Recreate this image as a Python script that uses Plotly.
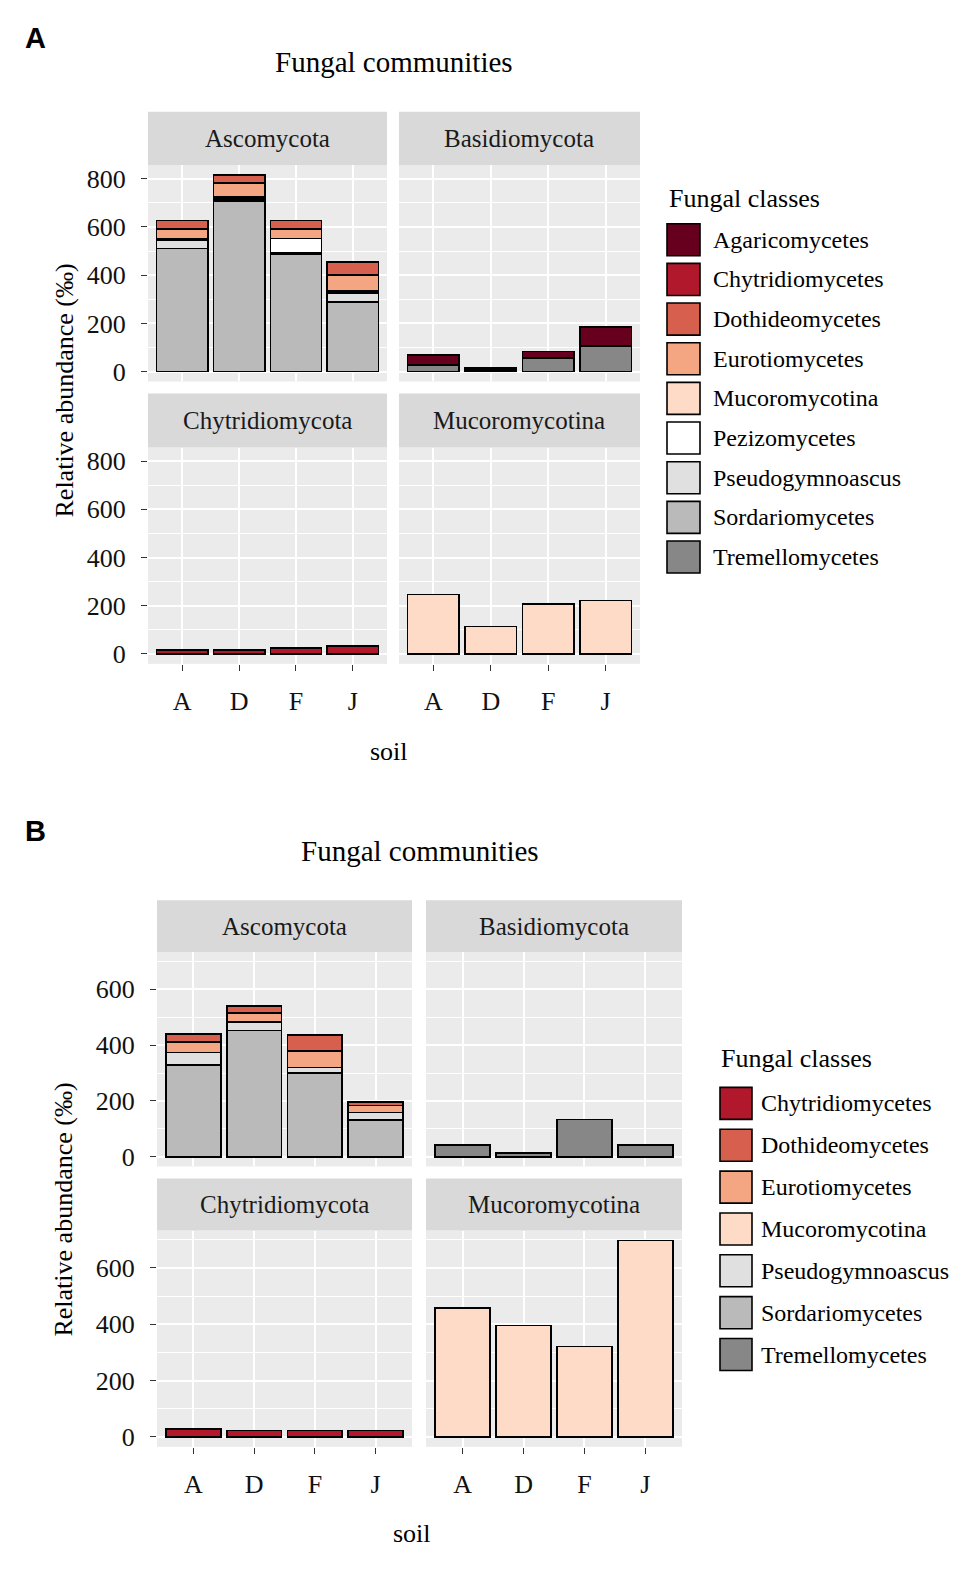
import plotly.graph_objects as go

OFF = 8  # browser body margin compensation
W, H = 975 - 2 * OFF, 1571 - 2 * OFF
YS = 1.0045  # small vertical calibration
FONT = "Liberation Serif"

# ---------------- data ----------------
soils = ["A", "D", "F", "J"]

classes_A = ["Agaricomycetes", "Chytridiomycetes", "Dothideomycetes", "Eurotiomycetes",
             "Mucoromycotina", "Pezizomycetes", "Pseudogymnoascus", "Sordariomycetes",
             "Tremellomycetes"]
classes_B = ["Chytridiomycetes", "Dothideomycetes", "Eurotiomycetes", "Mucoromycotina",
             "Pseudogymnoascus", "Sordariomycetes", "Tremellomycetes"]

class_colors = {
    "Agaricomycetes": "#67001f",
    "Chytridiomycetes": "#b2182b",
    "Dothideomycetes": "#d6604d",
    "Eurotiomycetes": "#f4a582",
    "Mucoromycotina": "#fddbc7",
    "Pezizomycetes": "#ffffff",
    "Pseudogymnoascus": "#e0e0e0",
    "Sordariomycetes": "#bababa",
    "Tremellomycetes": "#878787",
}

phyla = ["Ascomycota", "Basidiomycota", "Chytridiomycota", "Mucoromycotina"]

# Panel A (relative abundance, per mille)
A_asco = {
    "Dothideomycetes": [35, 32, 35, 53],
    "Eurotiomycetes": [41, 60, 39, 67],
    "Pezizomycetes": [6, 7, 60, 7],
    "Pseudogymnoascus": [34, 9, 3, 37],
    "Sordariomycetes": [510, 707, 489, 290],
}
A_basidio = {
    "Agaricomycetes": [42, 8, 27, 79],
    "Tremellomycetes": [28, 6, 57, 105],
}
A_chytrid = {"Chytridiomycetes": [16, 16, 25, 33]}
A_mucoro = {"Mucoromycotina": [247, 114, 208, 222]}

# Panel B
B_asco = {
    "Dothideomycetes": [29, 24, 57, 12],
    "Eurotiomycetes": [38, 32, 60, 26],
    "Pseudogymnoascus": [44, 31, 20, 27],
    "Sordariomycetes": [329, 452, 300, 131],
}
B_basidio = {"Tremellomycetes": [41, 14, 133, 41]}
B_chytrid = {"Chytridiomycetes": [29, 23, 23, 23]}
B_mucoro = {"Mucoromycotina": [458, 396, 321, 698]}

A_yticks = [0, 200, 400, 600, 800]
B_yticks = [0, 200, 400, 600]
A_yminor = [100, 300, 500, 700]
B_yminor = [100, 300, 500, 700]

title_text = "Fungal communities"
legend_title = "Fungal classes"
xlab = "soil"
ylab = "Relative abundance (‰)"


# ---------------- layout helpers ----------------
def px(x):
    return (x - OFF) / W


def py(y):
    return 1 - (y - OFF) * YS / H


def yrange_for(data_dicts):
    mx = max(sum(vals[i] for vals in d.values()) for d in data_dicts for i in range(len(soils)))
    return [-0.05 * mx, 1.05 * mx]


panels = [
    dict(
        tag="A", tag_pos=(35, 38), title_pos=(394, 62),
        data=[A_asco, A_basidio, A_chytrid, A_mucoro],
        classes=classes_A, yticks=A_yticks, yminor=A_yminor,
        cols=[(148, 387), (399, 640)], rows=[(165, 381), (447, 663)],
        strips=[(111.5, 165), (393, 447)],
        soil_pos=(389, 751), ylab_pos=(64, 390),
        leg_title=(667, 198), leg_x=667, leg_y0=223.5, leg_step=39.6, leg_sw=33, leg_sh=32,
        leg_text_x=711,
    ),
    dict(
        tag="B", tag_pos=(35, 830), title_pos=(420, 850),
        data=[B_asco, B_basidio, B_chytrid, B_mucoro],
        classes=classes_B, yticks=B_yticks, yminor=B_yminor,
        cols=[(157, 412), (426, 682)], rows=[(951, 1165), (1229, 1445)],
        strips=[(899, 951), (1177, 1229)],
        soil_pos=(412, 1532), ylab_pos=(64, 1208),
        leg_title=(719, 1057), leg_x=720, leg_y0=1086, leg_step=41.8, leg_sw=32, leg_sh=32,
        leg_text_x=759,
    ),
]

fig = go.Figure()
layout_axes = {}
shapes = []
annotations = []
ax_i = 0

for p in panels:
    yr = yrange_for(p["data"])
    for k, (phylum, d) in enumerate(zip(phyla, p["data"])):
        ax_i += 1
        r, c = divmod(k, 2)
        xname = "x" if ax_i == 1 else f"x{ax_i}"
        yname = "y" if ax_i == 1 else f"y{ax_i}"
        xkey = "xaxis" if ax_i == 1 else f"xaxis{ax_i}"
        ykey = "yaxis" if ax_i == 1 else f"yaxis{ax_i}"
        x0, x1 = p["cols"][c]
        ytop, ybot = p["rows"][r]
        # stack: ggplot puts first factor level on top -> add in reverse order
        for cls in reversed(p["classes"]):
            if cls in d:
                fig.add_trace(go.Bar(
                    x=soils, y=d[cls], name=cls, xaxis=xname, yaxis=yname,
                    width=0.9, showlegend=False,
                    marker=dict(color=class_colors[cls], line=dict(color="black", width=1.7)),
                ))
        bottom = (r == 1)
        left = (c == 0)
        layout_axes[xkey] = dict(
            domain=[px(x0), px(x1)], anchor=yname, type="category",
            categoryorder="array", categoryarray=soils, range=[-0.6, 3.6],
            showgrid=True, gridcolor="white", gridwidth=1.6, zeroline=False,
            showline=False, fixedrange=True,
            showticklabels=bottom, ticks="outside" if bottom else "",
            ticklen=6, tickwidth=1.2, tickcolor="#333333",
            tickfont=dict(family=FONT, size=26, color="#111111"),
            ticklabelstandoff=8,
        )
        layout_axes[ykey] = dict(
            domain=[py(ybot), py(ytop)], anchor=xname, range=yr,
            tickvals=p["yticks"], showgrid=True, gridcolor="white", gridwidth=1.6,
            zeroline=False, showline=False, fixedrange=True,
            minor=dict(tickvals=p["yminor"], showgrid=True, gridcolor="white", gridwidth=0.7, ticks=""),
            showticklabels=left, ticks="outside" if left else "",
            ticklen=6, tickwidth=1.2, tickcolor="#333333",
            tickfont=dict(family=FONT, size=26, color="#111111"),
            ticklabelstandoff=10,
        )
        # strip
        s0, s1 = p["strips"][r]
        shapes.append(dict(type="rect", xref="paper", yref="paper",
                           x0=px(x0), x1=px(x1), y0=py(s1), y1=py(s0),
                           fillcolor="#d9d9d9", line=dict(width=0), layer="below"))
        annotations.append(dict(xref="paper", yref="paper", x=px((x0 + x1) / 2), y=py((s0 + s1) / 2),
                                text=phylum, showarrow=False, xanchor="center", yanchor="middle",
                                font=dict(family=FONT, size=25, color="#1a1a1a")))

    # panel tag
    annotations.append(dict(xref="paper", yref="paper", x=px(p["tag_pos"][0]), y=py(p["tag_pos"][1]),
                            text=f"<b>{p['tag']}</b>", showarrow=False, xanchor="center", yanchor="middle",
                            font=dict(family="Liberation Sans", size=29, color="black")))
    # title
    annotations.append(dict(xref="paper", yref="paper", x=px(p["title_pos"][0]), y=py(p["title_pos"][1]),
                            text=title_text, showarrow=False, xanchor="center", yanchor="middle",
                            font=dict(family=FONT, size=29, color="black")))
    # x label
    annotations.append(dict(xref="paper", yref="paper", x=px(p["soil_pos"][0]), y=py(p["soil_pos"][1]),
                            text=xlab, showarrow=False, xanchor="center", yanchor="middle",
                            font=dict(family=FONT, size=26, color="black")))
    # y label
    annotations.append(dict(xref="paper", yref="paper", x=px(p["ylab_pos"][0]), y=py(p["ylab_pos"][1]),
                            text=ylab, showarrow=False, xanchor="center", yanchor="middle", textangle=-90,
                            font=dict(family=FONT, size=26, color="black")))
    # legend
    annotations.append(dict(xref="paper", yref="paper", x=px(p["leg_title"][0]), y=py(p["leg_title"][1]),
                            text=legend_title, showarrow=False, xanchor="left", yanchor="middle",
                            font=dict(family=FONT, size=26, color="black")))
    for j, cls in enumerate(p["classes"]):
        top = p["leg_y0"] + j * p["leg_step"]
        shapes.append(dict(type="rect", xref="paper", yref="paper",
                           x0=px(p["leg_x"]), x1=px(p["leg_x"] + p["leg_sw"]),
                           y0=py(top + p["leg_sh"]), y1=py(top),
                           fillcolor=class_colors[cls], line=dict(color="black", width=1.6)))
        annotations.append(dict(xref="paper", yref="paper", x=px(p["leg_text_x"]),
                                y=py(top + p["leg_sh"] / 2), text=cls, showarrow=False,
                                xanchor="left", yanchor="middle",
                                font=dict(family=FONT, size=24, color="black")))

fig.update_layout(
    width=W, height=H, margin=dict(l=0, r=0, t=0, b=0),
    paper_bgcolor="white", plot_bgcolor="#ebebeb",
    barmode="stack", showlegend=False,
    shapes=shapes, annotations=annotations,
    **layout_axes,
)

fig.write_html("out.html")
